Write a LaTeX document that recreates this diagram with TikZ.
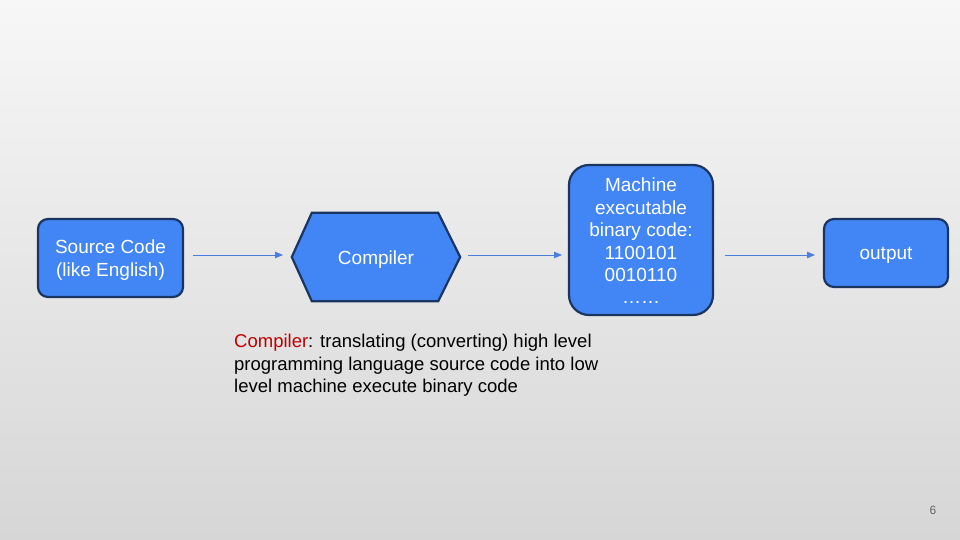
\documentclass[tikz,border=0pt]{standalone}
\usepackage{fontspec}
\setmainfont{Liberation Sans}
\usetikzlibrary{arrows.meta,calc}
\definecolor{boxfill}{HTML}{4285F4}
\definecolor{boxline}{HTML}{1B3561}
\definecolor{arrowc}{HTML}{4A7FE0}
\definecolor{bgtop}{HTML}{F7F7F7}
\definecolor{bgbot}{HTML}{D6D6D6}
\definecolor{redc}{HTML}{C00000}
\tikzset{
  flowbox/.style={draw=boxline, line width=2.2pt, fill=boxfill, inner sep=0pt},
  boxtext/.style={text=white, font=\fontsize{19}{22.4}\selectfont, align=center, inner sep=0pt},
  flowarrow/.style={draw=arrowc, line width=0.9pt, -{Triangle[length=8pt,width=6.5pt]}}
}
\begin{document}
\begin{tikzpicture}[x=1pt,y=-1pt]
\useasboundingbox (0,0) rectangle (960,540);
\shade[top color=bgtop, bottom color=bgbot] (0,0) rectangle (960,540);
% source
\node[flowbox, rounded corners=10pt, minimum width=145pt, minimum height=78pt] (src) at (110.5,258) {};
\node[boxtext] (srclabel) at ($(src.center)+(0,2)$) {Source Code\\(like English)};
% compiler hexagon
\node[minimum width=168pt, minimum height=88pt, inner sep=0pt] (comp) at (376,257) {};
\draw[draw=boxline, line width=2.2pt, fill=boxfill, line join=miter]
  (comp.west) -- ($(comp.north west)+(20,0)$) -- ($(comp.north east)+(-22,0)$) -- (comp.east)
  -- ($(comp.south east)+(-22,0)$) -- ($(comp.south west)+(20,0)$) -- cycle;
\node[boxtext] (complabel) at ($(comp.center)+(0,2.5)$) {Compiler};
% machine
\node[flowbox, rounded corners=20pt, minimum width=144pt, minimum height=150pt] (mach) at (641,240) {};
\node[boxtext] (machlabel) at ($(mach.center)+(0,1)$) {Machine\\executable\\binary code:\\1100101\\0010110\\……};
% output
\node[flowbox, rounded corners=10pt, minimum width=124pt, minimum height=68pt] (out) at (886,253) {};
\node[boxtext] (outlabel) at ($(out.center)+(0,2.5)$) {output};
% arrows
\coordinate (a1s) at (193,255); \coordinate (a1e) at (283,255);
\draw[flowarrow] (a1s) -- (a1e);
\coordinate (a2s) at (468,255); \coordinate (a2e) at (562,255);
\draw[flowarrow] (a2s) -- (a2e);
\coordinate (a3s) at (725,255); \coordinate (a3e) at (815,255);
\draw[flowarrow] (a3s) -- (a3e);
% description
\node[anchor=north west, align=left, inner sep=0pt, font=\fontsize{18.5}{22.5}\selectfont, text=black] (desc) at (234,334)
  {\textcolor{redc}{Compiler}: translating (converting) high level\\programming language source code into low\\level machine execute binary code};
% page number
\node[text=gray!80!black, font=\fontsize{12}{14}\selectfont] (pg) at (933,510) {6};
\end{tikzpicture}
\end{document}
